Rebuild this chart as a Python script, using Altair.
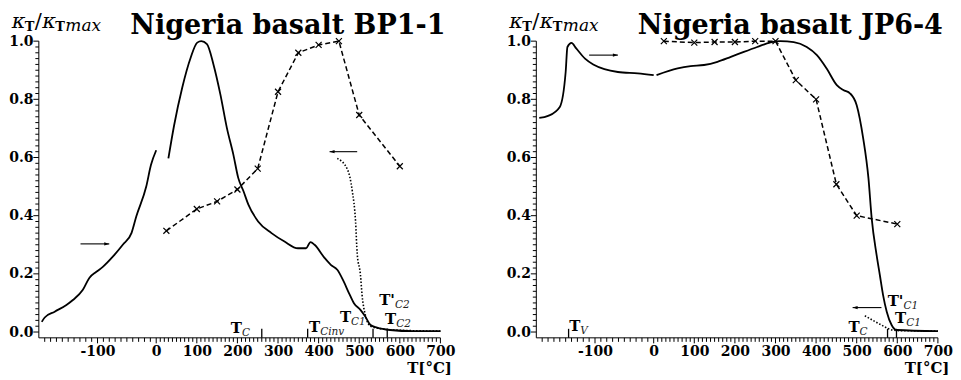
import altair as alt
import pandas as pd

# ---------------- Nigeria basalt BP1-1 ----------------
bp_low_T = [-195, -190, -173, -153, -142, -125, -114, -102, -91, -74, -57, -42, -34, -17, -9, 0]
bp_low_k = [0.035, 0.05, 0.07, 0.093, 0.11, 0.145, 0.186, 0.207, 0.224, 0.259, 0.30, 0.341,
            0.397, 0.50, 0.574, 0.625]
bp_heat_T = [30, 44, 64, 85, 101, 111, 125, 141, 158, 174, 190, 202, 215, 227, 251, 284, 316,
             349, 369, 380, 390, 414, 430, 446, 462, 475, 487, 503, 515, 528, 544, 576, 633, 700]
bp_heat_k = [0.597, 0.71, 0.84, 0.944, 0.995, 1.0, 0.99, 0.92, 0.817, 0.702, 0.61, 0.53, 0.484,
             0.438, 0.38, 0.34, 0.311, 0.288, 0.288, 0.309, 0.30, 0.256, 0.231, 0.214, 0.173,
             0.133, 0.099, 0.076, 0.053, 0.024, 0.015, 0.007, 0.003, 0.003]
bp_cool_T = [446, 471, 483, 491, 495, 503, 507, 515, 528, 560, 600, 650, 700]
bp_cool_k = [0.597, 0.559, 0.484, 0.38, 0.27, 0.197, 0.128, 0.059, 0.02, 0.01, 0.006, 0.004, 0.003]
bp_chi_T = [25, 100, 150, 200, 250, 300, 350, 400, 450, 500, 600]
bp_chi_k = [0.348, 0.423, 0.449, 0.49, 0.562, 0.826, 0.96, 0.987, 1.0, 0.746, 0.57]
bp_arrow_from = [-129, 495]
bp_arrow_to = [-80, 427]
bp_arrow_k = [0.303, 0.62]
bp_mark_T = [260, 373, 534, 569]
bp_lab_T = [211, 404, 480, 588, 591]
bp_lab_k = [-0.004, 0.0, 0.035, 0.092, 0.0275]
bp_lab_main = ["T", "T", "T", "T'", "T"]
bp_lab_sub = ["C", "Cinv", "C1", "C2", "C2"]

# ---------------- Nigeria basalt JP6-4 ----------------
jp_low_T = [-195, -180, -160, -150, -147, -140, -132, -117, -103, -84, -61, -27, 0]
jp_low_k = [0.736, 0.743, 0.774, 0.894, 0.98, 0.994, 0.975, 0.94, 0.92, 0.904, 0.894, 0.889, 0.883]
jp_heat_T = [7, 59, 91, 124, 157, 190, 222, 255, 288, 312, 345, 377, 402, 426, 451, 467, 484,
             500, 516, 529, 537, 549, 557, 565, 574, 586, 598, 700]
jp_heat_k = [0.883, 0.906, 0.914, 0.918, 0.929, 0.946, 0.963, 0.98, 0.996, 1.0, 0.997, 0.98,
             0.952, 0.906, 0.849, 0.832, 0.82, 0.78, 0.666, 0.528, 0.39, 0.265, 0.196, 0.127,
             0.07, 0.024, 0.007, 0.003]
jp_cool_T = [520, 545, 569, 580, 600, 650, 700]
jp_cool_k = [0.056, 0.036, 0.018, 0.01, 0.005, 0.004, 0.003]
jp_chi_T = [25, 100, 150, 200, 250, 300, 350, 400, 450, 500, 600]
jp_chi_k = [1.0, 0.995, 0.997, 0.997, 1.0, 1.0, 0.866, 0.80, 0.508, 0.40, 0.371]
jp_arrow_from = [-110, 561]
jp_arrow_to = [-61, 490]
jp_arrow_k = [0.952, 0.084]
jp_mark_T = [-145, 576, 598]
jp_lab_T = [-125, 507, 622, 615]
jp_lab_k = [0.003, 0.0, 0.03, 0.09]
jp_lab_main = ["T", "T", "T", "T'"]
jp_lab_sub = ["V", "C", "C1", "C1"]

x_major = list(range(-100, 701, 100))
x_minor = [t for t in range(-190, 701, 10) if t % 100 != 0]
y_major = [0.0, 0.2, 0.4, 0.6, 0.8, 1.0]
y_minor = [round(i * 0.02, 2) for i in range(0, 51) if i % 10 != 0]

FONT = "DejaVu Serif"

# axis lines sit at T=-200 and kappa=-0.02; the view reaches a little beyond them
X_AX, Y_AX, X_MAX, Y_MAX = -200, -0.02, 700, 1.0
X_LO, Y_LO = -210, -0.04
NEG = 117.5 / 200            # px per degree, low-T branch
POS = 284.5 / 700            # px per degree, high-T branch
PX_PER_K = 297 / 1.02        # px per unit kappa
R1 = (0 - X_LO) * NEG
W = R1 + X_MAX * POS
H = (Y_MAX - Y_LO) * PX_PER_K
SHIFT = (X_AX - X_LO) * NEG  # px between view edge and y axis line

x_scale = alt.Scale(domain=[X_LO, 0, X_MAX], range=[0, R1, W], nice=False, zero=False)
y_scale = alt.Scale(domain=[Y_LO, Y_MAX], nice=False, zero=False)

x_axis = alt.Axis(
    values=x_major, labelExpr="'' + datum.value", ticks=False, domain=False,
    labelOverlap=False, labelFlush=False, grid=False, labelPadding=1,
    title="T[°C]", titleX=413 + SHIFT, titleAlign="right", titlePadding=2,
)
y_axis = alt.Axis(
    values=y_major, format=".1f", ticks=False, domain=False,
    labelOverlap=False, labelFlush=False, grid=False, labelPadding=0,
    title=None,
)


def X(field="T"):
    return alt.X(f"{field}:Q", scale=x_scale, axis=x_axis)


def Y(field="k"):
    return alt.Y(f"{field}:Q", scale=y_scale, axis=y_axis)


def line_layer(T, k, dash=None, interp="monotone", width=1.8):
    df = pd.DataFrame({"T": T, "k": k})
    kw = dict(color="black", strokeWidth=width, interpolate=interp, clip=False)
    if dash is not None:
        kw["strokeDash"] = dash
    return alt.Chart(df).mark_line(**kw).encode(x=X(), y=Y())


def axis_lines():
    hx = pd.DataFrame({"T": [X_AX], "T2": [X_MAX], "k": [Y_AX]})
    vy = pd.DataFrame({"T": [X_AX], "k": [Y_AX], "k2": [Y_MAX]})
    return [
        alt.Chart(hx).mark_rule(color="black", strokeWidth=1).encode(x=X(), x2="T2", y=Y()),
        alt.Chart(vy).mark_rule(color="black", strokeWidth=1).encode(x=X(), y=Y(), y2="k2"),
    ]


def x_tick_layer(values, length):
    df = pd.DataFrame({"T": values, "a": [Y_AX] * len(values),
                       "b": [Y_AX - length / PX_PER_K] * len(values)})
    return alt.Chart(df).mark_rule(color="black", strokeWidth=1).encode(
        x=X(), y=Y("a"), y2="b")


def y_tick_layer(values, length):
    df = pd.DataFrame({"k": values, "a": [X_AX] * len(values),
                       "b": [X_AX - length / NEG] * len(values)})
    return alt.Chart(df).mark_rule(color="black", strokeWidth=1).encode(
        y=Y(), x=X("a"), x2="b")


def panel(title, low, heat, cool, chi, arrows, marks, labels):
    layers = axis_lines() + [x_tick_layer(x_minor, 4), x_tick_layer(x_major, 5.5),
                             y_tick_layer(y_minor, 3.5), y_tick_layer(y_major, 5.5)]
    layers.append(line_layer(*low))
    layers.append(line_layer(*heat))
    layers.append(line_layer(*cool, dash=[1.5, 1.8], width=1.6))
    chi_df = pd.DataFrame({"T": chi[0], "k": chi[1]})
    layers.append(alt.Chart(chi_df).mark_line(color="black", strokeWidth=1.5,
                                              strokeDash=[5, 3]).encode(x=X(), y=Y()))
    layers.append(alt.Chart(chi_df).mark_point(
        shape="M-1,-1L1,1M-1,1L1,-1", size=36, filled=False, color="black", strokeWidth=1.2,
        opacity=1).encode(x=X(), y=Y()))
    # arrows
    a_df = pd.DataFrame({"T1": arrows[0], "T2": arrows[1], "k": arrows[2]})
    a_df["dir"] = ["r" if b > a else "l" for a, b in zip(arrows[0], arrows[1])]
    layers.append(alt.Chart(a_df).mark_rule(color="black", strokeWidth=1.1).encode(
        x=X("T1"), x2="T2", y=Y()))
    layers.append(alt.Chart(a_df).mark_point(filled=True, color="black", size=100, opacity=1,
                                             strokeWidth=0).encode(
        x=X("T2"), y=Y(),
        shape=alt.Shape("dir:N", scale=alt.Scale(
            domain=["r", "l"],
            range=["M0,0L-1,-0.32L-1,0.32Z", "M0,0L1,-0.32L1,0.32Z"]), legend=None)))
    # temperature markers
    m_df = pd.DataFrame({"T": marks, "lo": [Y_AX] * len(marks), "hi": [0.011] * len(marks)})
    layers.append(alt.Chart(m_df).mark_rule(color="black", strokeWidth=1.3).encode(
        x=X(), y=Y("lo"), y2="hi"))
    # labels
    l_df = pd.DataFrame({"T": labels[0], "k": labels[1], "main": labels[2], "sub": labels[3]})
    layers.append(alt.Chart(l_df).mark_text(
        font=FONT, fontSize=15, fontWeight="bold", align="right", baseline="alphabetic",
        color="black").encode(x=X(), y=Y(), text="main:N"))
    layers.append(alt.Chart(l_df).mark_text(
        font=FONT, fontSize=10.5, fontStyle="italic", align="left", baseline="alphabetic",
        dy=3, color="#222").encode(x=X(), y=Y(), text="sub:N"))
    # title & y label
    one = pd.DataFrame({"a": [0]})
    layers.append(alt.Chart(one).mark_text(
        font=FONT, fontSize=27, fontWeight="bold", align="right", baseline="alphabetic",
        color="black").encode(x=alt.value(407 + SHIFT), y=alt.value(-7), text=alt.value(title)))
    pieces = [("κ", -27, -13, 21, "italic", "normal"),
              ("T", -14, -10, 13, "normal", "bold"),
              ("/", -4, -13, 21, "normal", "normal"),
              ("κ", 3.5, -13, 21, "italic", "normal"),
              ("T", 16.5, -10, 13, "normal", "bold"),
              ("max", 26.5, -10, 17, "italic", "normal")]
    for txt, px, py, fs, st, wt in pieces:
        layers.append(alt.Chart(one).mark_text(
            font=FONT, fontSize=fs, fontStyle=st, fontWeight=wt, align="left",
            baseline="alphabetic", color="black").encode(
            x=alt.value(px + SHIFT), y=alt.value(py), text=alt.value(txt)))
    return alt.layer(*layers).properties(width=W, height=H)


left = panel("Nigeria basalt BP1-1",
             (bp_low_T, bp_low_k), (bp_heat_T, bp_heat_k), (bp_cool_T, bp_cool_k),
             (bp_chi_T, bp_chi_k), (bp_arrow_from, bp_arrow_to, bp_arrow_k),
             bp_mark_T, (bp_lab_T, bp_lab_k, bp_lab_main, bp_lab_sub))
right = panel("Nigeria basalt JP6-4",
              (jp_low_T, jp_low_k), (jp_heat_T, jp_heat_k), (jp_cool_T, jp_cool_k),
              (jp_chi_T, jp_chi_k), (jp_arrow_from, jp_arrow_to, jp_arrow_k),
              jp_mark_T, (jp_lab_T, jp_lab_k, jp_lab_main, jp_lab_sub))

chart = alt.hconcat(left, right, spacing=50).properties(
    padding={"left": 0, "right": 0, "top": 3, "bottom": 0}
).configure_view(stroke=None).configure_axis(
    labelColor="black", labelFont=FONT, labelFontSize=14, labelFontWeight="bold",
    titleColor="black", titleFont=FONT, titleFontSize=15, titleFontWeight="bold",
)

chart.save("out.html", embed_options={"renderer": "svg", "actions": False})
